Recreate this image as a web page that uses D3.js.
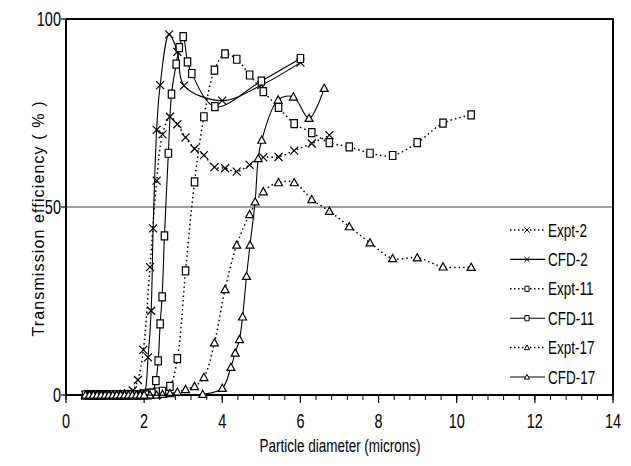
<!DOCTYPE html>
<html>
<head>
<meta charset="utf-8">
<script src="https://d3js.org/d3.v7.min.js"></script>
<style>
  body { margin: 0; background: #fff; }
  text { font-family: "Liberation Sans", Arial, sans-serif; fill: #000; }
</style>
</head>
<body>
<svg id="chart" width="631" height="466"></svg>
<script>
// experimental size bins (shared by the three Expt series)
const exptX = [0.54, 0.58, 0.62, 0.67, 0.72, 0.78, 0.84, 0.9, 0.97, 1.04, 1.12, 1.2, 1.29, 1.38,
  1.48, 1.59, 1.71, 1.84, 1.98, 2.15, 2.32, 2.47, 2.66, 2.85, 3.06, 3.29, 3.53, 3.8, 4.07, 4.37,
  4.7, 5.05, 5.44, 5.84, 6.29, 6.74, 7.25, 7.78, 8.36, 8.99, 9.65, 10.37];

const expt2 = [0, 0, 0, 0, 0, 0, 0, 0, 0, 0, 0, 0, 0, 0, 0.3, 0.5, 1.2, 4, 12, 34, 57, 69.3, 74,
  72, 68.5, 65.5, 63.8, 60.6, 60.3, 59.4, 61.2, 63.2, 63.3, 65, 66.9, 69.1];
const expt11 = [0, 0, 0, 0, 0, 0, 0, 0, 0, 0, 0, 0, 0, 0, 0, 0, 0, 0, 0.3, 0.5, 0.8, 1, 2.3, 9.7,
  33, 56.7, 74, 86.4, 90.7, 89.3, 85.1, 80.7, 76.5, 72.2, 69.8, 67.1, 66, 64.3, 63.7, 67.1, 72.3, 74.5];
const expt17 = [0, 0, 0, 0, 0, 0, 0, 0, 0, 0, 0, 0, 0, 0, 0, 0, 0, 0, 0, 0, 0, 0.2, 0.4, 0.8,
  1.5, 2.3, 4.7, 13.9, 28.1, 39.9, 48, 54.1, 56.5, 56.5, 52, 48.9, 44.8, 40.5, 36.3, 36.5, 34.1, 34];

// CFD results
const cfd2X = [0.5, 0.6, 0.7, 0.8, 0.9, 1.0, 1.1, 1.2, 1.3, 1.4, 1.5, 1.6, 1.7, 1.8, 1.9, 2.0,
  2.1, 2.18, 2.23, 2.32, 2.41, 2.64, 2.85, 3.02, 4.0, 5.0, 6.0];
const cfd2 = [0, 0, 0, 0, 0, 0, 0, 0, 0, 0, 0, 0, 0, 0, 0, 0.5,
  10, 22.4, 44.3, 70.5, 82.4, 95.9, 91.3, 82.3, 78.3, 82.4, 88.4];

const cfd11X = [0.5, 0.6, 0.7, 0.8, 0.9, 1.0, 1.1, 1.2, 1.3, 1.4, 1.5, 1.6, 1.7, 1.8, 1.9, 2.0,
  2.1, 2.2, 2.3, 2.36, 2.41, 2.46, 2.52, 2.62, 2.7, 2.82, 2.9, 3.0, 3.11, 3.22, 3.81, 5.0, 6.0];
const cfd11 = [0, 0, 0, 0, 0, 0, 0, 0, 0, 0, 0, 0, 0, 0, 0, 0,
  0, 0.5, 3.8, 9.1, 18.9, 26.1, 42.3, 64.3, 80, 88, 92.4, 95.3, 88.6, 85.5, 76.7, 83.5, 89.5];

const cfd17X = [0.5, 0.6, 0.7, 0.8, 0.9, 1.0, 1.1, 1.2, 1.3, 1.4, 1.5, 1.6, 1.7, 1.8, 1.9, 2.0,
  3.5, 4.0, 4.22, 4.33, 4.44, 4.52, 4.62, 4.71, 4.84, 4.92, 5.01, 5.43, 5.82, 6.22, 6.61];
const cfd17 = [0, 0, 0, 0, 0, 0, 0, 0, 0, 0, 0, 0, 0, 0, 0, 0,
  0.2, 1.8, 7.4, 11.2, 14.8, 20.8, 31.6, 39.9, 51.4, 62.9, 67.8, 78.5, 79.3, 73.6, 81.6];

const seriesNames = ["Expt-2", "CFD-2", "Expt-11", "CFD-11", "Expt-17", "CFD-17"];
const xTickValues = [0, 2, 4, 6, 8, 10, 12, 14];
const yTickValues = [0, 50, 100];
const xTitle = "Particle diameter (microns)";
const yTitle = "Transmission efficiency ( % )";

const series = [
  { name: seriesNames[0], xs: exptX, ys: expt2, marker: "x", dotted: true },
  { name: seriesNames[1], xs: cfd2X, ys: cfd2, marker: "x", dotted: false },
  { name: seriesNames[2], xs: exptX, ys: expt11, marker: "square", dotted: true },
  { name: seriesNames[3], xs: cfd11X, ys: cfd11, marker: "square", dotted: false },
  { name: seriesNames[4], xs: exptX, ys: expt17, marker: "triangle", dotted: true },
  { name: seriesNames[5], xs: cfd17X, ys: cfd17, marker: "triangle", dotted: false }
];

const svg = d3.select("#chart");
const x = d3.scaleLinear().domain([0, 14]).range([66, 613]);
const y = d3.scaleLinear().domain([0, 100]).range([395, 19]);
const stretch = 1.35;

function stretchedText(sel, px, py, str, size, anchor) {
  return sel.append("text")
    .attr("transform", `translate(${px},${py}) scale(1,${stretch})`)
    .attr("text-anchor", anchor)
    .style("font-size", size + "px")
    .text(str);
}

function markerPath(type, s) {
  if (type === "x") return `M${-s},${-s}L${s},${s}M${-s},${s}L${s},${-s}`;
  if (type === "square") return `M${-s * 0.8},${-s}H${s * 0.8}V${s}H${-s * 0.8}Z`;
  return `M0,${-s}L${s},${s * 0.8}H${-s}Z`;
}

// gridline at 50
svg.append("line")
  .attr("x1", x(0)).attr("x2", x(14))
  .attr("y1", y(50)).attr("y2", y(50))
  .attr("stroke", "#808080").attr("stroke-width", 1.5);

// frame: top and right
svg.append("path")
  .attr("d", `M${x(0)},${y(100)}H${x(14)}V${y(0)}`)
  .attr("fill", "none").attr("stroke", "#000").attr("stroke-width", 2);

// x axis
const xAxis = svg.append("g");
xAxis.append("line")
  .attr("x1", x(0)).attr("x2", x(14)).attr("y1", y(0)).attr("y2", y(0))
  .attr("stroke", "#000").attr("stroke-width", 2);
xAxis.selectAll(".minor")
  .data(d3.range(0, 14.01, 0.4))
  .join("line")
  .attr("x1", d => x(d)).attr("x2", d => x(d))
  .attr("y1", y(0)).attr("y2", y(0) + 5)
  .attr("stroke", "#000").attr("stroke-width", 1);
xAxis.selectAll(".major")
  .data(xTickValues)
  .join("line")
  .attr("x1", d => x(d)).attr("x2", d => x(d))
  .attr("y1", y(0)).attr("y2", y(0) + 8)
  .attr("stroke", "#000").attr("stroke-width", 1.2);
xTickValues.forEach(d => stretchedText(xAxis, x(d), 428, String(d), 14.5, "middle"));

// y axis
const yAxis = svg.append("g");
yAxis.append("line")
  .attr("x1", x(0)).attr("x2", x(0)).attr("y1", y(0)).attr("y2", y(100))
  .attr("stroke", "#000").attr("stroke-width", 2);
yAxis.selectAll(".tick")
  .data(yTickValues)
  .join("line")
  .attr("x1", x(0) - 5).attr("x2", x(0))
  .attr("y1", d => y(d)).attr("y2", d => y(d))
  .attr("stroke", "#000").attr("stroke-width", 1.2);
yTickValues.forEach(d => stretchedText(yAxis, 61, y(d) + 7, String(d), 14.5, "end"));

// axis titles
stretchedText(svg, 340, 452, xTitle, 13.5, "middle");
svg.append("text")
  .attr("transform", `translate(44,219) rotate(-90)`)
  .attr("text-anchor", "middle")
  .attr("textLength", 235)
  .attr("lengthAdjust", "spacing")
  .style("font-size", "16px")
  .text(yTitle);

// series
const line = d3.line()
  .x(d => x(d.x)).y(d => y(d.y))
  .curve(d3.curveCatmullRom.alpha(0.5));

series.forEach(s => {
  const pts = s.xs.slice(0, s.ys.length).map((v, i) => ({ x: v, y: s.ys[i] }));
  const g = svg.append("g");
  g.append("path")
    .datum(pts)
    .attr("d", line)
    .attr("fill", "none")
    .attr("stroke", "#000")
    .attr("stroke-width", s.dotted ? 1.5 : 1.1)
    .attr("stroke-dasharray", s.dotted ? "1.5,3" : null);
  g.selectAll("path.mk")
    .data(pts)
    .join("path")
    .attr("class", "mk")
    .attr("transform", d => `translate(${x(d.x)},${y(d.y)})`)
    .attr("d", markerPath(s.marker, 4))
    .attr("fill", s.marker === "x" ? "none" : "#fff")
    .attr("stroke", "#000")
    .attr("stroke-width", 1.2);
});

// legend
const legend = svg.append("g");
series.forEach((s, i) => {
  const ly = 230 + i * 29.4;
  legend.append("line")
    .attr("x1", 510).attr("x2", 545).attr("y1", ly).attr("y2", ly)
    .attr("stroke", "#000")
    .attr("stroke-width", s.dotted ? 1.5 : 1.1)
    .attr("stroke-dasharray", s.dotted ? "1.5,2.5" : null);
  legend.append("path")
    .attr("transform", `translate(527,${ly})`)
    .attr("d", markerPath(s.marker, 2.6))
    .attr("fill", s.marker === "x" ? "none" : "#fff")
    .attr("stroke", "#000").attr("stroke-width", 1);
  stretchedText(legend, 548, ly + 6.5, s.name, 13.5, "start");
});
</script>
</body>
</html>
